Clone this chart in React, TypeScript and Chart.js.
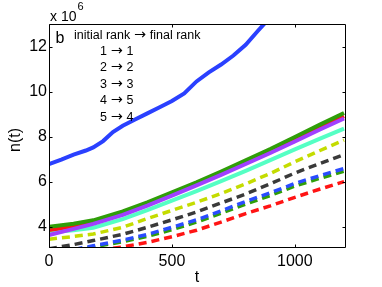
import React, { useEffect, useRef } from 'react';
import { Chart, registerables } from 'chart.js';

Chart.register(...registerables);

// time points (t)
const T = [0, 100, 180, 300, 400, 500, 600, 700, 800, 900, 1000, 1100, 1200];
const T_BLUE = [0, 50, 100, 150, 180, 220, 260, 300, 350, 400, 450, 500, 550, 600, 650, 700, 750, 800, 850, 900, 1000, 1100, 1200];

// n(t) in units of 10^6
const blueSolid = [6.78, 6.98, 7.2, 7.38, 7.52, 7.8, 8.2, 8.48, 8.76, 9.03, 9.3, 9.58, 9.92, 10.45, 10.85, 11.2, 11.6, 12.08, 12.7, 13.3, 14.3, 15.3, 16.3];
const greenSolid = [3.99, 4.13, 4.28, 4.68, 5.08, 5.52, 5.97, 6.45, 6.95, 7.45, 7.98, 8.52, 9.05];
const redSolid = [3.85, 4.02, 4.2, 4.6, 5.0, 5.45, 5.9, 6.37, 6.85, 7.35, 7.87, 8.4, 8.9];
const purpleSolid = [3.62, 3.9, 4.12, 4.52, 4.93, 5.38, 5.83, 6.3, 6.78, 7.27, 7.78, 8.3, 8.8];
const cyanSolid = [3.75, 3.84, 3.95, 4.33, 4.73, 5.15, 5.58, 6.02, 6.48, 6.95, 7.43, 7.9, 8.35];
const yellowDash = [3.44, 3.56, 3.67, 3.97, 4.36, 4.72, 5.08, 5.47, 5.9, 6.36, 6.88, 7.37, 7.84];
const grayDash = [3.02, 3.2, 3.38, 3.66, 3.97, 4.3, 4.65, 5.05, 5.45, 5.9, 6.38, 6.8, 7.2];
const blueDash = [2.8, 2.98, 3.15, 3.4, 3.65, 3.97, 4.3, 4.7, 5.12, 5.5, 5.92, 6.26, 6.58];
const greenDash = [2.75, 2.93, 3.1, 3.33, 3.57, 3.86, 4.2, 4.6, 5.0, 5.38, 5.8, 6.14, 6.46];
const redDash = [2.55, 2.75, 2.9, 3.1, 3.3, 3.55, 3.84, 4.2, 4.58, 4.92, 5.3, 5.66, 6.0];

const X_TICKS = [0, 500, 1000];
const Y_TICKS = [4, 6, 8, 10, 12];
const X_MIN = 0;
const X_MAX = 1208;
const Y_MIN = 3.05;
const Y_MAX = 13;

const PANEL_LABEL = 'b';
const ARROW = '\u2192';
const LEGEND_TITLE = ['initial rank', 'final rank'];
const LEGEND_ROWS = [['1', '1'], ['2', '2'], ['3', '3'], ['4', '5'], ['5', '4']];
const X_TITLE = 't';
const Y_TITLE = 'n(t)';
const Y_MULT = 'x 10';
const Y_EXP = '6';

const FONT = '"Liberation Sans", Arial, Helvetica, sans-serif';
const ARROW_FONT = '"DejaVu Sans", sans-serif';

export default function App() {
  const ref = useRef<HTMLCanvasElement>(null);

  useEffect(() => {
    if (!ref.current) return;
    const series = [
      { t: T, values: purpleSolid, color: '#a040ff', dash: [] as number[], width: 4 },
      { t: T, values: greenSolid, color: '#2f9e08', dash: [] as number[], width: 4 },
      { t: T, values: redSolid, color: '#ff1414', dash: [] as number[], width: 4 },
      { t: T, values: cyanSolid, color: '#55ffc4', dash: [] as number[], width: 4 },
      { t: T_BLUE, values: blueSolid, color: '#2a40ff', dash: [] as number[], width: 4 },
      { t: T, values: yellowDash, color: '#c4dc00', dash: [8, 5], width: 3.5 },
      { t: T, values: grayDash, color: '#3a3a3a', dash: [8, 5], width: 3.5 },
      { t: T, values: blueDash, color: '#2a4cff', dash: [8, 5], width: 3.5 },
      { t: T, values: greenDash, color: '#2f9e08', dash: [8, 5], width: 3.5 },
      { t: T, values: redDash, color: '#ff1414', dash: [8, 5], width: 3.5 },
    ];

    const drawArrowLine = (ctx: CanvasRenderingContext2D, parts: string[], x: number, y: number, size: number) => {
      let cx = x;
      ctx.font = `${size}px ${FONT}`;
      ctx.fillText(parts[0], cx, y);
      cx += ctx.measureText(parts[0]).width + size * 0.3;
      ctx.font = `${size * 1.15}px ${ARROW_FONT}`;
      ctx.fillText(ARROW, cx, y);
      cx += ctx.measureText(ARROW).width + size * 0.3;
      ctx.font = `${size}px ${FONT}`;
      ctx.fillText(parts[1], cx, y);
    };

    const framePlugin = {
      id: 'frame',
      afterDraw(chart: any) {
        const ctx = chart.ctx as CanvasRenderingContext2D;
        const { left, right, top, bottom } = chart.chartArea;
        const xs = chart.scales.x;
        const ys = chart.scales.y;
        ctx.save();
        ctx.strokeStyle = '#000';
        ctx.lineWidth = 1;
        const L = Math.round(left) + 0.5;
        const R = Math.round(right) - 0.5;
        const Tp = Math.round(top) + 0.5;
        const B = Math.round(bottom) - 0.5;
        ctx.beginPath();
        ctx.rect(L, Tp, R - L, B - Tp);
        ctx.stroke();
        // inward ticks
        ctx.beginPath();
        X_TICKS.forEach((v) => {
          const px = Math.round(xs.getPixelForValue(v)) + 0.5;
          ctx.moveTo(px, B);
          ctx.lineTo(px, B - 3);
          ctx.moveTo(px, Tp);
          ctx.lineTo(px, Tp + 3);
        });
        Y_TICKS.forEach((v) => {
          const py = Math.round(ys.getPixelForValue(v)) + 0.5;
          ctx.moveTo(L, py);
          ctx.lineTo(L + 3, py);
          ctx.moveTo(R, py);
          ctx.lineTo(R - 3, py);
        });
        ctx.stroke();

        ctx.fillStyle = '#000';
        ctx.textBaseline = 'alphabetic';
        // axis multiplier
        ctx.textAlign = 'left';
        ctx.font = `14px ${FONT}`;
        ctx.fillText(Y_MULT, 50, 20.5);
        const w = ctx.measureText(Y_MULT).width;
        ctx.font = `11px ${FONT}`;
        ctx.fillText(Y_EXP, 50 + w + 1, 10);

        // x title
        ctx.font = `16px ${FONT}`;
        ctx.textAlign = 'center';
        ctx.fillText(X_TITLE, 197, 281.5);
        // y title
        ctx.save();
        ctx.translate(19.5, 140);
        ctx.rotate(-Math.PI / 2);
        ctx.fillText(Y_TITLE, 0, 0);
        ctx.restore();

        // panel label and legend text
        ctx.textAlign = 'left';
        ctx.font = `16px ${FONT}`;
        ctx.fillText(PANEL_LABEL, 55.5, 43.3);
        drawArrowLine(ctx, LEGEND_TITLE, 74, 39.3, 12.5);
        LEGEND_ROWS.forEach((row, i) => {
          drawArrowLine(ctx, row, 100, 55 + i * 16.4, 12.5);
        });
        ctx.restore();
      },
    };

    const chart = new Chart(ref.current, {
      type: 'line',
      data: {
        datasets: series.map((s) => ({
          data: s.t.map((t, i) => ({ x: t, y: s.values[i] })),
          borderColor: s.color,
          backgroundColor: s.color,
          borderWidth: s.width,
          borderDash: s.dash,
          borderCapStyle: 'butt' as const,
          pointRadius: 0,
          fill: false,
          tension: 0,
          clip: 0,
        })),
      },
      options: {
        animation: false,
        responsive: false,
        maintainAspectRatio: false,
        layout: { padding: { left: 0, right: 36, top: 24, bottom: 0 } },
        plugins: { legend: { display: false }, tooltip: { enabled: false } },
        scales: {
          x: {
            type: 'linear',
            min: X_MIN,
            max: X_MAX,
            afterBuildTicks: (s: any) => {
              s.ticks = X_TICKS.map((v) => ({ value: v }));
            },
            afterFit: (s: any) => {
              s.height = 39;
            },
            grid: { display: false, drawTicks: false },
            border: { display: false },
            ticks: {
              color: '#000',
              font: { family: FONT, size: 16 },
              padding: 4,
              maxRotation: 0,
              autoSkip: false,
              callback: (v: any) => String(v),
            },
          },
          y: {
            type: 'linear',
            min: Y_MIN,
            max: Y_MAX,
            afterBuildTicks: (s: any) => {
              s.ticks = Y_TICKS.map((v) => ({ value: v }));
            },
            afterFit: (s: any) => {
              s.width = 49;
            },
            grid: { display: false, drawTicks: false },
            border: { display: false },
            ticks: {
              color: '#000',
              font: { family: FONT, size: 16 },
              padding: 2,
              autoSkip: false,
              callback: (v: any) => String(v),
            },
          },
        },
      },
      plugins: [framePlugin],
    });
    return () => chart.destroy();
  }, []);

  return (
    <div style={{ position: 'fixed', left: 0, top: 0, width: 382, height: 287, background: '#fff' }}>
      <canvas ref={ref} width={382} height={287} style={{ width: 382, height: 287, display: 'block' }} />
    </div>
  );
}
